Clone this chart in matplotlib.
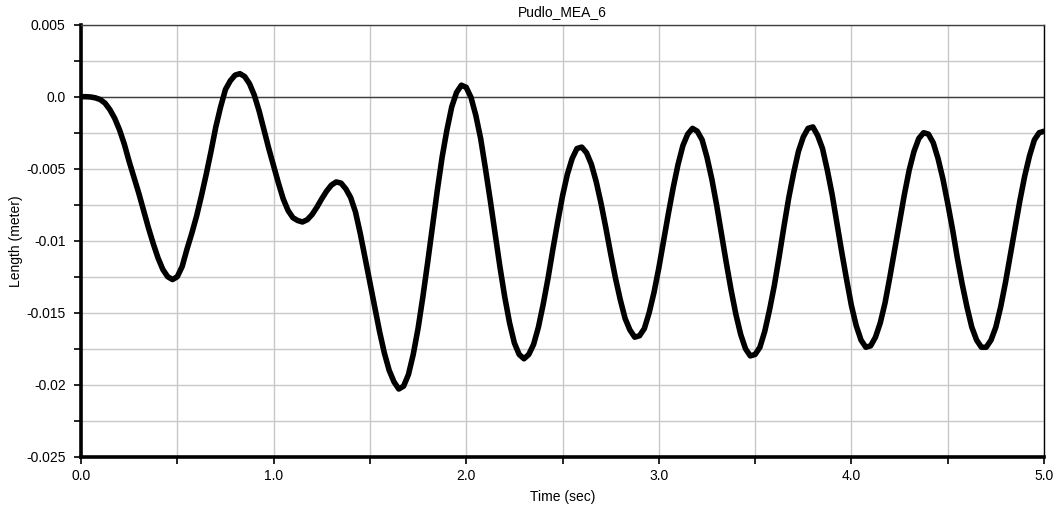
import numpy as np
import matplotlib
matplotlib.use("Agg")
import matplotlib.pyplot as plt
from matplotlib.ticker import MultipleLocator, FixedLocator

plt.rcParams['font.family'] = ['Liberation Sans', 'DejaVu Sans']

title = "Pudlo_MEA_6"
x_label = "Time (sec)"
y_label = "Length (meter)"

t_start, t_end = 0.0, 5.0
length_m = [
    0.0, 0.0, -0.00002, -0.00008, -0.0002, -0.00045, -0.0009, -0.0015, -0.0023, -0.0033,
    -0.0045, -0.0056, -0.0067, -0.0079, -0.0091, -0.0102, -0.0112, -0.0120, -0.0125, -0.0127,
    -0.0125, -0.0118, -0.0106, -0.0095, -0.0083, -0.0069, -0.0054, -0.0038, -0.0021, -0.0007,
    0.0005, 0.0011, 0.0015, 0.0016, 0.0014, 0.0009, 0.0001, -0.0010, -0.0023, -0.0036,
    -0.0048, -0.0060, -0.0071, -0.0079, -0.0084, -0.0086, -0.0087, -0.00854, -0.00818, -0.00767,
    -0.00709, -0.00656, -0.00614, -0.00592, -0.0060, -0.0064, -0.0070, -0.0080, -0.0095, -0.0112,
    -0.0129, -0.0146, -0.0163, -0.0178, -0.0190, -0.0198, -0.0203, -0.0201, -0.0193, -0.0179,
    -0.0161, -0.0139, -0.0115, -0.0090, -0.0065, -0.0042, -0.0023, -0.0007, 0.0003, 0.0008,
    0.00065, -0.00005, -0.0013, -0.0029, -0.0050, -0.0072, -0.0095, -0.0118, -0.0139, -0.0157,
    -0.0171, -0.0179, -0.0182, -0.0179, -0.0172, -0.0160, -0.0144, -0.0126, -0.0106, -0.0087,
    -0.0069, -0.0054, -0.0043, -0.0036, -0.0035, -0.0039, -0.0047, -0.0059, -0.0074, -0.0091,
    -0.0109, -0.0126, -0.0141, -0.0154, -0.0162, -0.0167, -0.0166, -0.0161, -0.0150, -0.0136,
    -0.0119, -0.0100, -0.0081, -0.0063, -0.0047, -0.0034, -0.0026, -0.0022, -0.0024, -0.0030,
    -0.0042, -0.0057, -0.0075, -0.0095, -0.0115, -0.0134, -0.0151, -0.0165, -0.0175, -0.0180,
    -0.0179, -0.0174, -0.0163, -0.0148, -0.0131, -0.0111, -0.0090, -0.0070, -0.0053, -0.0038,
    -0.0028, -0.0022, -0.0021, -0.0027, -0.0036, -0.0051, -0.0068, -0.0088, -0.0108, -0.0127,
    -0.0145, -0.0159, -0.0169, -0.0174, -0.0173, -0.0167, -0.0157, -0.0143, -0.0125, -0.0106,
    -0.0087, -0.0068, -0.0051, -0.0038, -0.0029, -0.0025, -0.0026, -0.0032, -0.0043, -0.0057,
    -0.0074, -0.0092, -0.0112, -0.0130, -0.0146, -0.0160, -0.0169, -0.0174, -0.0174, -0.0169,
    -0.0160, -0.0146, -0.0129, -0.0110, -0.0091, -0.0072, -0.0055, -0.0041, -0.0030, -0.0025,
    -0.0024,
]
time_s = np.linspace(t_start, t_end, len(length_m))

x_ticks = [0.0, 1.0, 2.0, 3.0, 4.0, 5.0]
x_tick_labels = ["0.0", "1.0", "2.0", "3.0", "4.0", "5.0"]
y_ticks = [0.005, 0.0, -0.005, -0.01, -0.015, -0.02, -0.025]
y_tick_labels = ["0.005", "0.0", "-0.005", "-0.01", "-0.015", "-0.02", "-0.025"]

fig = plt.figure(figsize=(10.55, 5.05), dpi=100)
ax = fig.add_axes([81/1055, 1 - 456.7/505, (1044 - 81)/1055, (456.7 - 24.7)/505])

ax.set_xlim(0, 5)
ax.set_ylim(-0.025, 0.005)

ax.xaxis.set_major_locator(FixedLocator(x_ticks))
ax.set_xticklabels(x_tick_labels)
ax.xaxis.set_minor_locator(MultipleLocator(0.5))
ax.yaxis.set_major_locator(FixedLocator(y_ticks))
ax.set_yticklabels(y_tick_labels)
ax.yaxis.set_minor_locator(MultipleLocator(0.0025))

ax.grid(True, which='both', color='#c8c8c8', linewidth=1.0)
ax.set_axisbelow(True)
ax.axhline(0.0, color='#404040', linewidth=1.0, zorder=1.5)

ax.plot(time_s, length_m, color='black', linewidth=4.0, solid_capstyle='round',
        solid_joinstyle='round', zorder=3)

for side in ['left', 'bottom']:
    ax.spines[side].set_linewidth(2.6)
    ax.spines[side].set_color('black')
ax.spines['top'].set_linewidth(1.0)
ax.spines['top'].set_color('#404040')
ax.spines['right'].set_linewidth(1.0)
ax.spines['right'].set_color('black')

ax.tick_params(which='both', direction='out', length=5, width=1.2, color='black',
               labelsize=10, labelcolor='black')
ax.tick_params(axis='y', pad=6)
ax.tick_params(axis='x', pad=4)

ax.set_title(title, fontsize=10, pad=6)
ax.set_xlabel(x_label, fontsize=10, labelpad=5)
ax.set_ylabel(y_label, fontsize=10, labelpad=2)

fig.savefig("out.png", dpi=100)
